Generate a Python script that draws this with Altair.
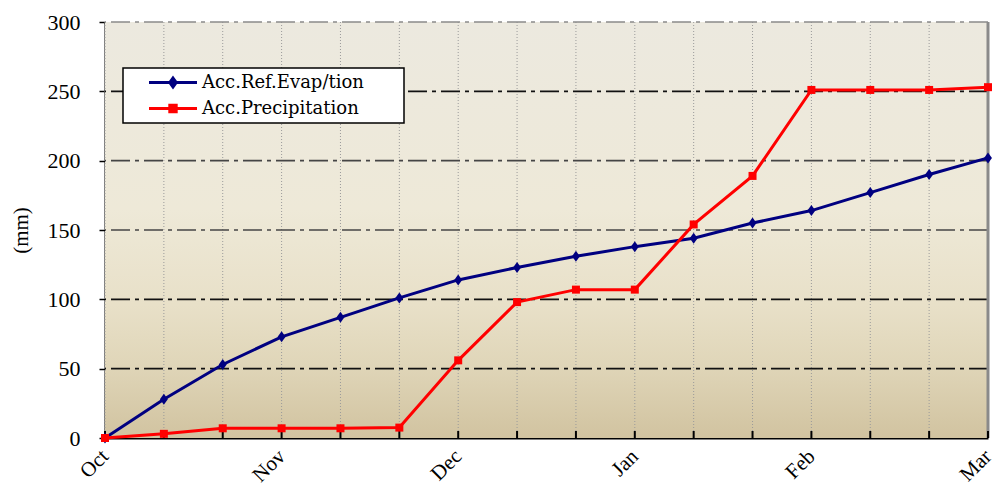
import json
import altair as alt
import pandas as pd

# ---------------- data ----------------
months = ["Oct", "Nov", "Dec", "Jan", "Feb", "Mar"]
steps = list(range(16))
evap = [0, 28, 53, 73, 87, 101, 114, 123, 131, 138, 144, 155, 164, 177, 190, 202]
precip = [0, 3, 7, 7, 7, 7.5, 56, 98, 107, 107, 154, 189, 251, 251, 251, 253]
series_names = ["Acc.Ref.Evap/tion", "Acc.Precipitation"]
series_colors = ["#000080", "#FF0000"]
y_ticks = [0, 50, 100, 150, 200, 250, 300]
y_grid = [50, 100, 150, 200, 250, 300]

# ---------------- style ----------------
W, H = 883, 416
FONT = "Liberation Serif"
LEG_FONT = "DejaVu Serif"
diamond_path = "M0,-1L0.72,0L0,1L-0.72,0Z"
legend_paths = [
    "M-3,0H3M0,-0.55L0.4,0L0,0.55L-0.4,0Z",
    "M-3,0H3M-0.4,-0.4H0.4V0.4H-0.4Z",
]
marker_shapes = [diamond_path, "square"]
marker_sizes = [121, 64]

rows = []
for name, vals in zip(series_names, [evap, precip]):
    for s, v in zip(steps, vals):
        rows.append({"step": s, "series": name, "value": v})
df = pd.DataFrame(rows)
steps_df = pd.DataFrame({"step": steps})
grid_df = pd.DataFrame({"v": y_grid})

x_scale = alt.Scale(domain=[steps[0], steps[-1]], nice=False, zero=False)
y_scale = alt.Scale(domain=[y_ticks[0], y_ticks[-1]], nice=False)

label_expr = json.dumps(months) + "[datum.value / 3]"
x_axis = alt.Axis(
    values=[3 * i for i in range(len(months))],
    labelExpr=label_expr,
    labelAngle=315,
    labelAlign="right",
    labelBaseline="middle",
    labelFont=FONT,
    labelFontSize=21,
    labelColor="black",
    labelPadding=15,
    ticks=False,
    grid=False,
    domainColor="black",
    domainWidth=2,
    title=None,
)
y_axis = alt.Axis(
    values=y_ticks,
    tickSize=6,
    tickColor="black",
    tickWidth=1.5,
    labelFont=FONT,
    labelFontSize=22,
    labelColor="black",
    labelPadding=19,
    grid=False,
    domainColor="black",
    domainWidth=2,
    title="(mm)",
    titleFont=FONT,
    titleFontSize=21,
    titleFontWeight="normal",
    titleColor="black",
    titlePadding=16,
)

X = lambda f: alt.X(f, scale=x_scale, axis=x_axis)
Y = lambda f: alt.Y(f, scale=y_scale, axis=y_axis)

bg = alt.Chart(pd.DataFrame({"a": [0]})).mark_rect(
    fill=alt.Gradient(
        gradient="linear",
        stops=[
            alt.GradientStop(color="#ECE9DF", offset=0),
            alt.GradientStop(color="#EEE9D8", offset=0.45),
            alt.GradientStop(color="#E8E0C8", offset=0.68),
            alt.GradientStop(color="#E0D6B9", offset=0.82),
            alt.GradientStop(color="#D1C3A0", offset=1),
        ],
        x1=0, x2=0, y1=0, y2=1,
    )
).encode(x=alt.value(0), x2=alt.value(W), y=alt.value(0), y2=alt.value(H))

vgrid = alt.Chart(steps_df).mark_rule(
    color="#9a9a9a", strokeDash=[1, 2], strokeWidth=1
).encode(x=X("step:Q"))

grid_color = (
    alt.when("datum.v == 300").then(alt.value("#8a8a8a"))
    .when("datum.v == 150 || datum.v == 200").then(alt.value("#454545"))
    .otherwise(alt.value("#111111"))
)
hgrid = alt.Chart(grid_df).mark_rule(
    strokeDash=[19, 5, 4, 5], strokeWidth=1.6
).encode(y=Y("v:Q"), color=grid_color)

right_border = alt.Chart(pd.DataFrame({"step": [steps[-1]]})).mark_rule(
    color="#8a8a8a", strokeWidth=3
).encode(x=X("step:Q"))

bottom_ticks = alt.Chart(steps_df).mark_rule(color="black", strokeWidth=2).encode(
    x=X("step:Q"), y=alt.value(H), y2=alt.value(H - 7)
)

series_layers = []
for name, col, shp, sz in zip(series_names, series_colors, marker_shapes, marker_sizes):
    base = alt.Chart(df).transform_filter(alt.datum.series == name)
    line = base.mark_line(color=col, strokeWidth=3).encode(x=X("step:Q"), y=Y("value:Q"))
    pts = base.mark_point(filled=True, shape=shp, size=sz, color=col, opacity=1).encode(
        x=X("step:Q"), y=Y("value:Q")
    )
    series_layers += [line, pts]

leg = alt.Legend(
    title=None,
    orient="none",
    legendX=18,
    legendY=46,
    padding=5,
    rowPadding=6,
    symbolOffset=35.5,
    labelOffset=19.5,
    labelFont=LEG_FONT,
    labelFontSize=18,
    labelColor="black",
    labelLimit=400,
    labelExpr="datum.label + '\u00a0\u00a0\u00a0\u00a0\u00a0\u00a0\u200b'",
    strokeColor="black",
    fillColor="white",
    symbolSize=256,
    symbolStrokeWidth=3,
)
legend_layer = alt.Chart(df).transform_filter("datum.step < 0").mark_point(
    filled=True, size=256, strokeWidth=3, opacity=1
).encode(
    shape=alt.Shape("series:N", scale=alt.Scale(domain=series_names, range=legend_paths), legend=leg),
    fill=alt.Fill("series:N", scale=alt.Scale(domain=series_names, range=series_colors), legend=leg),
    stroke=alt.Stroke("series:N", scale=alt.Scale(domain=series_names, range=series_colors), legend=leg),
)

chart = alt.layer(
    bg, vgrid, hgrid, right_border, bottom_ticks, *series_layers, legend_layer
).properties(
    width=W,
    height=H,
    autosize="none",
    padding={"left": 97, "top": 14, "right": 8, "bottom": 50},
    background="white",
).configure_view(strokeWidth=0).configure_legend(strokeWidth=1.5)

chart.save("out.html", embed_options={"renderer": "svg", "actions": False})
